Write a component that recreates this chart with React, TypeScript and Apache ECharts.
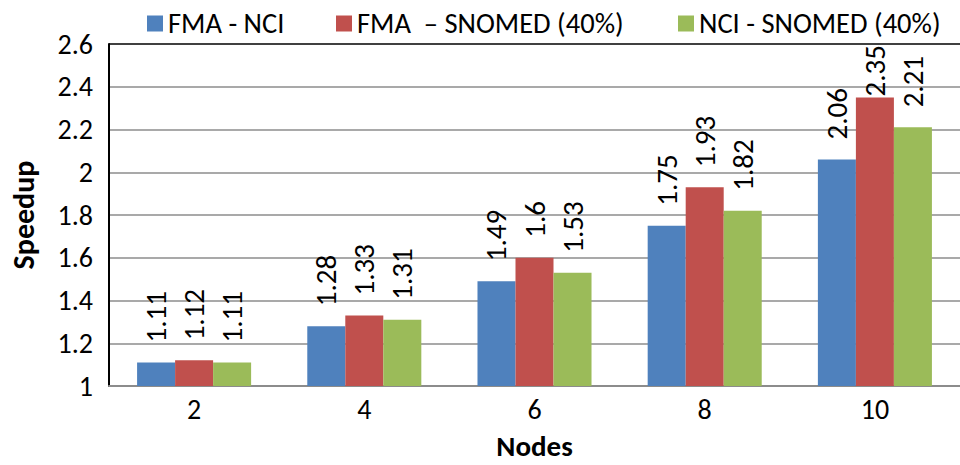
import React, { useEffect, useRef } from "react";
import * as echarts from "echarts";

const categories = ["2", "4", "6", "8", "10"];
const seriesNames = ["FMA - NCI", "FMA  – SNOMED (40%)", "NCI - SNOMED (40%)"];
const fmaNci = [1.11, 1.28, 1.49, 1.75, 2.06];
const fmaSnomed = [1.12, 1.33, 1.6, 1.93, 2.35];
const nciSnomed = [1.11, 1.31, 1.53, 1.82, 2.21];
const colors = ["#4F81BD", "#C0504D", "#9BBB59"];
const legendLefts = [142, 331, 673];

const FONT = "Carlito, Lato, 'Liberation Sans', sans-serif";

export default function App() {
  const ref = useRef<HTMLDivElement>(null);

  useEffect(() => {
    if (!ref.current) return;
    const chart = echarts.init(ref.current, null, { renderer: "svg" });
    const values = [fmaNci, fmaSnomed, nciSnomed];

    const series = values.map((vals, i) => ({
      name: seriesNames[i],
      type: "bar",
      barGap: "0%",
      barCategoryGap: "33%",
      itemStyle: { color: colors[i] },
      data: vals.map((v) =>
        // labels that would overflow the top of the plot sit right on the bar
        v > 2.3 ? { value: v, label: { distance: 1 } } : v
      ),
      label: {
        show: true,
        position: "top",
        rotate: 90,
        align: "left",
        verticalAlign: "middle",
        distance: 20,
        fontFamily: FONT,
        fontSize: 29,
        color: "#000",
      },
    }));

    chart.setOption({
      animation: false,
      textStyle: { fontFamily: FONT },
      legend: legendLefts.map((left, i) => ({
        data: [seriesNames[i]],
        left,
        top: 4,
        icon: "rect",
        itemWidth: 16,
        itemHeight: 16,
        itemGap: 6,
        textStyle: { fontFamily: FONT, fontSize: 28.5, color: "#000" },
      })),
      grid: { left: 100, top: 44, width: 867, height: 348, containLabel: false },
      xAxis: {
        type: "category",
        data: categories,
        name: "Nodes",
        nameLocation: "middle",
        nameGap: 45,
        nameTextStyle: { fontFamily: FONT, fontSize: 29, fontWeight: "bold", color: "#000" },
        axisLine: { lineStyle: { color: "#8c8c8c", width: 2 } },
        axisTick: { show: false },
        axisLabel: { fontFamily: FONT, fontSize: 28, color: "#000", margin: 9 },
      },
      yAxis: {
        type: "value",
        min: 1,
        max: 2.6,
        interval: 0.2,
        name: "Speedup",
        nameLocation: "middle",
        nameGap: 71,
        nameTextStyle: { fontFamily: FONT, fontSize: 30, fontWeight: "bold", color: "#000" },
        axisLine: { show: true, lineStyle: { color: "#000", width: 2 } },
        axisTick: { show: false },
        axisLabel: {
          fontFamily: FONT,
          fontSize: 28,
          color: "#000",
          margin: 16,
          formatter: (v: number) => String(Math.round(v * 10) / 10),
        },
        splitLine: {
          lineStyle: {
            color: ["#8c8c8c", "#8c8c8c", "#8c8c8c", "#8c8c8c", "#8c8c8c", "#8c8c8c", "#8c8c8c", "#8c8c8c", "#000"],
            width: 1.5,
          },
        },
      },
      series,
    });

    return () => chart.dispose();
  }, []);

  return <div ref={ref} style={{ width: 960, height: 465, position: "absolute", left: 0, top: 0 }} />;
}
